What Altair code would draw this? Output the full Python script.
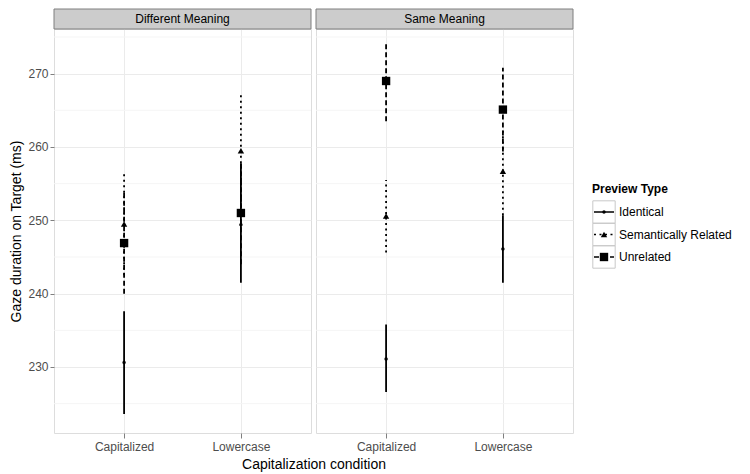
import altair as alt
import pandas as pd

panel_names = ["Different Meaning", "Same Meaning"]
conditions = ["Capitalized", "Lowercase"]
preview_types = ["Identical", "Semantically Related", "Unrelated"]

# order: panel -> condition -> preview type
mean_ms = [230.6, 249.5, 246.9, 249.4, 259.5, 251.0,
           231.1, 250.6, 269.0, 246.1, 256.7, 265.1]
ci_low = [223.6, 242.5, 240.0, 241.5, 251.8, 244.0,
          226.6, 245.6, 263.5, 241.5, 250.7, 259.4]
ci_high = [237.6, 256.5, 253.8, 257.7, 267.2, 258.0,
           235.8, 255.5, 274.1, 250.7, 262.7, 270.8]

y_ticks = [230, 240, 250, 260, 270]
minor_grid = [225, 235, 245, 255, 265, 275]

rows = []
i = 0
for p in panel_names:
    for c in conditions:
        for t in preview_types:
            rows.append({"panel": p, "condition": c, "ptype": t,
                         "mean": mean_ms[i], "lo": ci_low[i], "hi": ci_high[i]})
            i += 1
df = pd.DataFrame(rows)
minor_df = pd.DataFrame({"v": minor_grid})
legend_df = pd.DataFrame({"ptype": preview_types})

FONT = "Liberation Sans"
W, H = 257, 404
ydom = [221.0, 276.09]

dash_scale = alt.Scale(domain=preview_types, range=[[1, 0], [2, 3.5], [5, 3]])
shape_scale = alt.Scale(domain=preview_types, range=["circle", "triangle-up", "square"])
size_scale = alt.Scale(domain=preview_types, range=[12, 70, 38])


def panel(name, first):
    base = alt.Chart(df).transform_filter(alt.datum.panel == name)
    if first:
        xaxis = alt.Axis(title="Capitalization condition", titleX=W + 2.5, titleY=35,
                         titleAnchor=None, titleAlign="center", titleBaseline="alphabetic",
                         titleFontSize=14, titleFontWeight="normal", titleColor="black",
                         labelAngle=0, labelFontSize=12, labelColor="#4d4d4d", labelPadding=3,
                         tickColor="#7f7f7f", tickSize=5, domain=False, grid=True,
                         gridColor="#ebebeb")
        yaxis = alt.Axis(title="Gaze duration on Target (ms)", values=y_ticks,
                         titleFontSize=14, titleFontWeight="normal", titleColor="black",
                         titleX=-38, titleBaseline="middle",
                         labelFontSize=12, labelColor="#4d4d4d", labelPadding=2,
                         tickColor="#7f7f7f", tickSize=4, domain=False, grid=True,
                         gridColor="#ebebeb")
    else:
        xaxis = alt.Axis(title=None, labelAngle=0, labelFontSize=12, labelColor="#4d4d4d",
                         labelPadding=3, tickColor="#7f7f7f", tickSize=5, domain=False,
                         grid=True, gridColor="#ebebeb")
        yaxis = alt.Axis(title=None, values=y_ticks, labels=False, ticks=False, domain=False,
                         grid=True, gridColor="#ebebeb")
    x = alt.X("condition:N", sort=conditions, axis=xaxis,
              scale=alt.Scale(type="point", padding=0.6, domain=conditions))
    yscale = alt.Scale(domain=ydom, nice=False, zero=False)

    minor = alt.Chart(minor_df).mark_rule(color="#f5f5f5", strokeWidth=1).encode(
        y=alt.Y("v:Q", scale=yscale, axis=yaxis))

    rules = base.mark_rule(strokeWidth=1.8, color="black").encode(
        x=x,
        y=alt.Y("lo:Q", scale=yscale, axis=yaxis),
        y2="hi:Q",
        strokeDash=alt.StrokeDash("ptype:N", scale=dash_scale, legend=None),
    )
    pts = base.mark_point(filled=True, opacity=1, color="black").encode(
        x=x,
        y=alt.Y("mean:Q", scale=yscale, axis=yaxis),
        shape=alt.Shape("ptype:N", scale=shape_scale, legend=None),
        size=alt.Size("ptype:N", scale=size_scale, legend=None),
    )
    strip_df = pd.DataFrame({"panel": [name]})
    strip = alt.Chart(strip_df).mark_rect(fill="#cccccc", stroke="#7f7f7f", strokeWidth=1).encode(
        x=alt.value(0), x2=alt.value(W), y=alt.value(-20), y2=alt.value(0))
    strip_txt = alt.Chart(strip_df).mark_text(fontSize=12, font=FONT, color="black",
                                              baseline="middle").encode(
        text="panel:N", x=alt.value(W / 2), y=alt.value(-10))

    return alt.layer(minor, rules, pts, strip, strip_txt).properties(width=W, height=H)


# legend panel built from the preview types
ly = alt.Y("ptype:N", sort=preview_types, axis=None,
           scale=alt.Scale(type="point", domain=preview_types, range=[183, 228], padding=0))
lbase = alt.Chart(legend_df)
key_box = lbase.mark_point(shape="square", filled=False, stroke="#c8c8c8", strokeWidth=1,
                           size=500, opacity=1).encode(x=alt.value(12), y=ly)
key_line = lbase.mark_rule(strokeWidth=1.5, color="black").encode(
    x=alt.value(2), x2=alt.value(22), y=ly,
    strokeDash=alt.StrokeDash("ptype:N", scale=dash_scale, legend=None))
key_pt = lbase.mark_point(filled=True, opacity=1, color="black").encode(
    x=alt.value(12), y=ly,
    shape=alt.Shape("ptype:N", scale=shape_scale, legend=None),
    size=alt.Size("ptype:N", scale=size_scale, legend=None))
key_txt = lbase.mark_text(align="left", baseline="middle", fontSize=12, font=FONT,
                          color="black").encode(x=alt.value(27), y=ly, text="ptype:N")
leg_title = alt.Chart(pd.DataFrame({"t": ["Preview Type"]})).mark_text(
    align="left", baseline="middle", fontSize=12, font=FONT, fontWeight="bold",
    color="black").encode(x=alt.value(0), y=alt.value(159.5), text="t:N")
legend_chart = alt.layer(key_box, key_line, key_pt, key_txt, leg_title).properties(
    width=140, height=H, view=alt.ViewBackground(stroke="transparent"))

panels = alt.hconcat(panel(panel_names[0], True), panel(panel_names[1], False),
                     spacing=5, bounds="flush")

chart = alt.hconcat(panels, legend_chart, spacing=16).resolve_scale(
    strokeDash="shared", shape="shared", size="shared"
).properties(
    padding=0,
).configure_view(
    stroke="#7f7f7f", strokeWidth=1
).configure(
    font=FONT
).configure_axis(
    labelFont=FONT, titleFont=FONT
)

chart.save("out.html", embed_options={"renderer": "svg", "actions": False})
